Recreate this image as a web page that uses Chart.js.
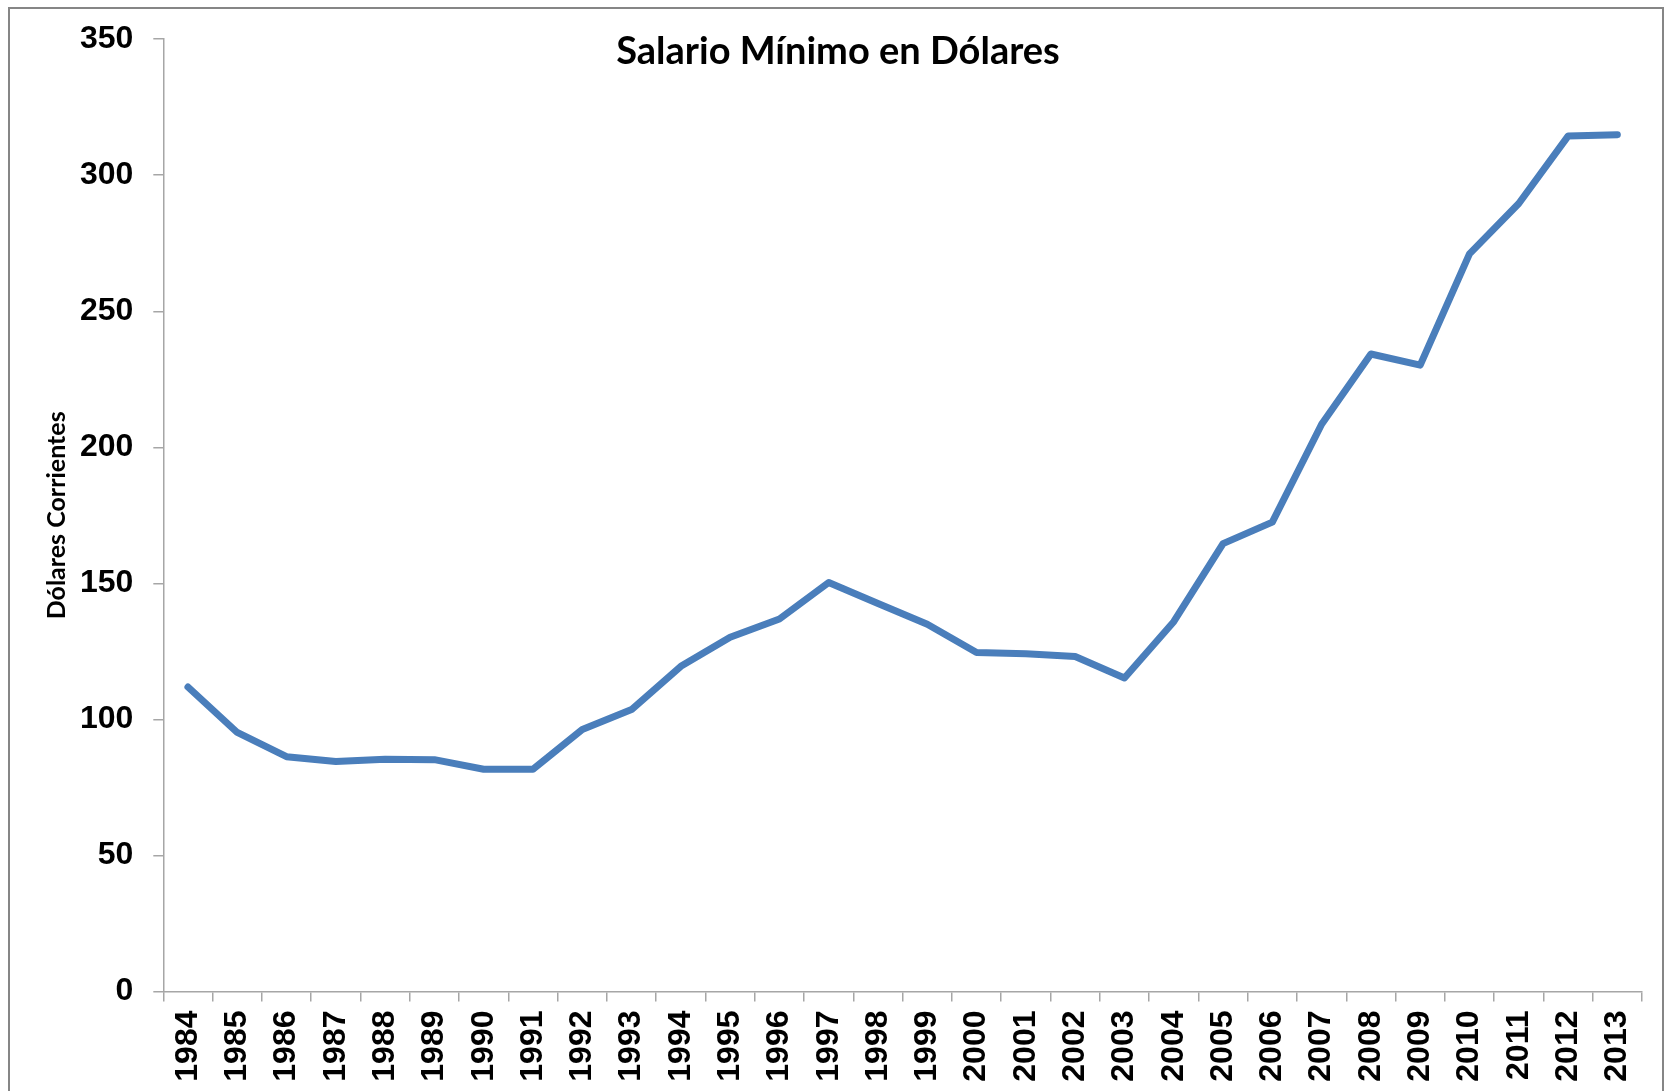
<!DOCTYPE html>
<html lang="es">
<head>
    <meta charset="UTF-8">
    <title>Salario Mínimo en Dólares</title>
    <script src="https://cdn.jsdelivr.net/npm/chart.js"></script>
    <style>
        html, body { margin: 0; padding: 0; background: #fff; overflow: hidden; }
        #wrap { position: relative; width: 1667px; height: 1091px; }
        #frame {
            position: absolute; left: 8px; top: 7px; width: 1656px; height: 1200px;
            border: 2px solid #868686; box-sizing: border-box; pointer-events: none;
        }
    </style>
</head>
<body>
    <div id="wrap">
        <canvas id="myChart" width="1667" height="1091"></canvas>
        <div id="frame"></div>
    </div>

    <script>
        // años y salario mínimo (dólares corrientes)
        const years = ["1984", "1985", "1986", "1987", "1988", "1989", "1990", "1991", "1992", "1993",
                       "1994", "1995", "1996", "1997", "1998", "1999", "2000", "2001", "2002", "2003",
                       "2004", "2005", "2006", "2007", "2008", "2009", "2010", "2011", "2012", "2013"];
        const salario = [111.9, 95.2, 86.3, 84.5, 85.4, 85.2, 81.7, 81.7, 96.3, 103.6,
                         119.5, 130.2, 136.9, 150.3, 142.6, 135.0, 124.6, 124.1, 123.1, 115.2,
                         135.9, 164.6, 172.5, 208.5, 234.3, 230.2, 271.1, 289.6, 314.4, 314.9];
        const yMin = 0, yMax = 350, yStep = 50;
        const chartTitle = "Salario Mínimo en Dólares";
        const yTitle = "Dólares Corrientes";

        const axisGrey = "#a6a6a6";

        // titulo dentro del area del grafico
        const titlePlugin = {
            id: "titleInside",
            afterDraw(chart) {
                const ctx = chart.ctx;
                ctx.save();
                ctx.font = "bold 38px Lato";
                ctx.fillStyle = "#000";
                ctx.textAlign = "center";
                ctx.textBaseline = "alphabetic";
                ctx.fillText(chartTitle, 838, 64);
                ctx.restore();
            }
        };

        new Chart(document.getElementById("myChart"), {
            type: "line",
            data: {
                labels: years,
                datasets: [{
                    label: "Salario mínimo",
                    data: salario,
                    borderColor: "#4a7ebb",
                    borderWidth: 7,
                    borderCapStyle: "round",
                    borderJoinStyle: "round",
                    pointRadius: 0,
                    fill: false,
                    tension: 0
                }]
            },
            options: {
                responsive: false,
                animation: false,
                layout: { padding: { left: 38, top: 35, right: 25, bottom: 0 } },
                plugins: {
                    legend: { display: false },
                    tooltip: { enabled: false },
                    title: { display: false }
                },
                scales: {
                    x: {
                        type: "category",
                        offset: true,
                        grid: { offset: true, drawOnChartArea: false, tickLength: 10, color: axisGrey, lineWidth: 1.5 },
                        border: { color: axisGrey, width: 1.5 },
                        ticks: {
                            autoSkip: false,
                            minRotation: 90,
                            maxRotation: 90,
                            padding: 9,
                            color: "#000",
                            font: { family: "Liberation Sans", weight: "bold", size: 32 }
                        },
                        afterFit(scale) { scale.height = 99.5; }
                    },
                    y: {
                        min: yMin,
                        max: yMax,
                        grid: { drawOnChartArea: false, tickLength: 10, color: axisGrey, lineWidth: 1.5 },
                        border: { color: axisGrey, width: 1.5 },
                        ticks: {
                            stepSize: yStep,
                            padding: 20,
                            color: "#000",
                            font: { family: "Liberation Sans", weight: "bold", size: 32 }
                        },
                        title: {
                            display: true,
                            text: yTitle,
                            color: "#000",
                            font: { family: "Lato", weight: "bold", size: 25 },
                            padding: { top: 4, bottom: 0 }
                        },
                        afterFit(scale) { scale.width = 125.3; }
                    }
                }
            },
            plugins: [titlePlugin]
        });
    </script>
</body>
</html>
